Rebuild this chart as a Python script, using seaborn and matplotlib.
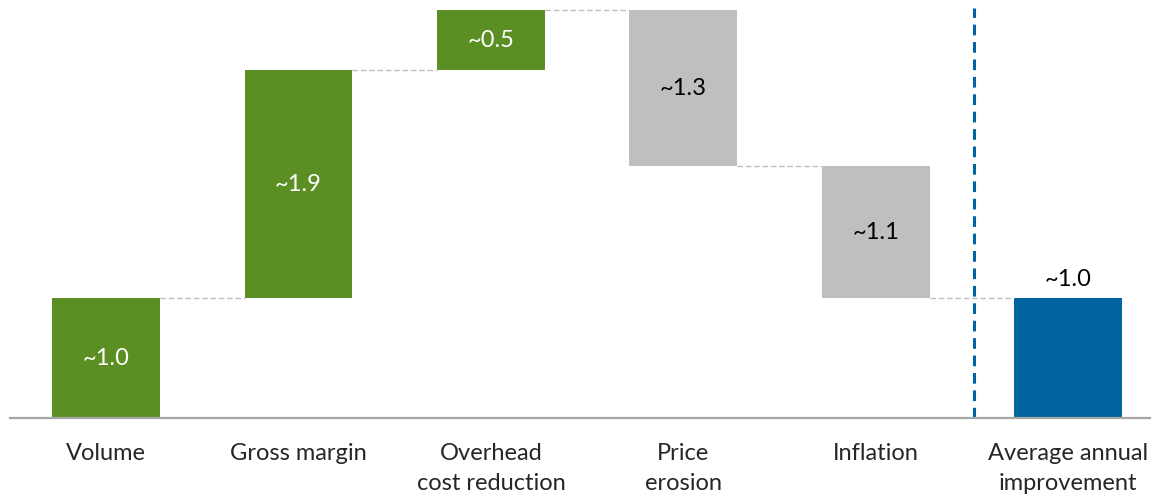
import numpy as np
import matplotlib
matplotlib.use("Agg")
import matplotlib.pyplot as plt
import seaborn as sns

# waterfall data
categories = ["Volume", "Gross margin", "Overhead\ncost reduction",
              "Price\nerosion", "Inflation", "Average annual\nimprovement"]
steps = [1.0, 1.9, 0.5, -1.3, -1.1]
total = 1.0
value_labels = ["~1.0", "~1.9", "~0.5", "~1.3", "~1.1", "~1.0"]

GREEN = "#5B8E23"
GREY = "#BFBFBF"
BLUE = "#0064A0"

sns.set_style("white")
plt.rcParams["font.family"] = ["Lato", "DejaVu Sans"]

ends = np.cumsum(steps)
starts = ends - np.array(steps)
bottoms = list(np.minimum(starts, ends)) + [0.0]
heights = list(np.abs(steps)) + [total]
colors = [GREEN if s > 0 else GREY for s in steps] + [BLUE]

fig = plt.figure(figsize=(11.55, 4.95), dpi=100)
ax = fig.add_axes([10 / 1155, 77 / 495, 1140 / 1155, 410 / 495])

sns.barplot(x=categories, y=heights, order=categories, bottom=bottoms,
            width=0.56, color=GREY, saturation=1, ax=ax)
for patch, c in zip(ax.patches, colors):
    patch.set_facecolor(c)
    patch.set_edgecolor("none")

# connectors between bars
half = 0.28
for i, lvl in enumerate(ends):
    ax.plot([i + half, i + 1 - half], [lvl, lvl], color="#BFBFBF",
            lw=1, ls=(0, (4, 2)), zorder=1)

# value labels
for i, (b, h, lab) in enumerate(zip(bottoms, heights, value_labels)):
    if i == len(categories) - 1:
        ax.text(i, b + h + 0.07, lab, ha="center", va="bottom",
                fontsize=17, color="black")
    else:
        tc = "white" if colors[i] == GREEN else "black"
        ax.text(i, b + h / 2, lab, ha="center", va="center",
                fontsize=17, color=tc)

# separator before total
ax.axvline(4.51, ymin=0, ymax=1, color=BLUE, lw=2.2, ls=(0, (3.5, 2.2)))

ax.set_xlim(-0.5, 5.426)
ax.set_ylim(0, 3.42)
ax.set_yticks([])
ax.set_ylabel("")
ax.set_xticks(range(len(categories)))
ax.set_xticklabels(categories, linespacing=1.55, fontsize=17)
ax.tick_params(axis="x", length=0, pad=18)
for s in ["top", "right", "left"]:
    ax.spines[s].set_visible(False)
ax.spines["bottom"].set_color("#A6A6A6")
ax.spines["bottom"].set_linewidth(1.6)

fig.savefig("out.png", dpi=100)
